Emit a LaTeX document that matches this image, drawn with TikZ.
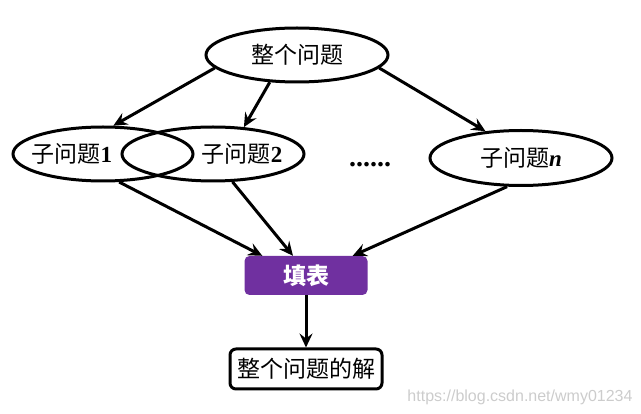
\documentclass[tikz,border=0pt]{standalone}
\usepackage{fontspec}
\setmainfont{Liberation Serif}
\newfontfamily\cjk{Noto Sans CJK SC}
\newfontfamily\wmfont{Liberation Sans}
\usetikzlibrary{shapes,arrows.meta,positioning,calc}
\definecolor{tablepurple}{RGB}{112,48,160}
\newcommand{\subnum}[1]{{\rmfamily\bfseries #1}}

\begin{document}
\begin{tikzpicture}[x=1pt, y=-1pt,
    prob/.style={ellipse, draw=black, line width=3pt, minimum width=180pt,
                 minimum height=54pt, inner sep=0pt, font=\cjk\fontsize{23}{27}\selectfont},
    probtext/.style={inner sep=0pt, font=\cjk\fontsize{23}{27}\selectfont},
    tablebox/.style={rectangle, fill=tablepurple, rounded corners=5pt, minimum width=123pt,
                     minimum height=39pt, text=white, font=\cjk\bfseries\fontsize{23}{27}\selectfont},
    solbox/.style={rectangle, draw=black, line width=3pt, rounded corners=6pt, fill=white,
                   minimum width=152pt, minimum height=40pt, font=\cjk\fontsize{23}{27}\selectfont},
    link/.style={-{Stealth[length=14pt,width=13pt,inset=5pt]}, line width=3pt}
]
    \useasboundingbox (0,0) rectangle (641,414);
    % problem and sub-problems
    \node[prob, minimum width=182pt] (whole) at (297,55) {整个问题};
    \node[prob] (sub1) at (103,154) {};
    \node[probtext] (sub1txt) at ([xshift=-31pt]sub1.center) {子问题\subnum{1}};
    \node[prob, minimum width=182pt] (sub2) at (213,154) {};
    \node[probtext] (sub2txt) at ([xshift=29pt]sub2.center) {子问题\subnum{2}};
    \node[font=\bfseries\fontsize{28}{30}\selectfont, anchor=base] (dots) at (370,167) {......};
    \node[prob, minimum width=182pt, minimum height=55pt] (subn) at (521,158) {子问题\subnum{\itshape n}};
    % table and solution
    \node[tablebox] (table) at (306,275.5) {填表};
    \node[solbox] (sol) at (306,369) {整个问题的解};

    \draw[link] (whole.189) -- (sub1.70);
    \draw[link] (whole.225) -- (sub2.41);
    \draw[link] (whole.351) -- (subn.143);
    \draw[link] (sub1.300) -- ([xshift=18pt]table.north west);
    \draw[link] (sub2.305) -- ([xshift=-13pt]table.north);
    \draw[link] (subn.244) -- ([xshift=-15pt]table.north east);
    \draw[link] (table.south) -- (sol.north);

    \node[text=gray!40, font=\wmfont\fontsize{16}{18}\selectfont] (mark) at (520,397) {https://blog.csdn.net/wmy01234};
\end{tikzpicture}
\end{document}
